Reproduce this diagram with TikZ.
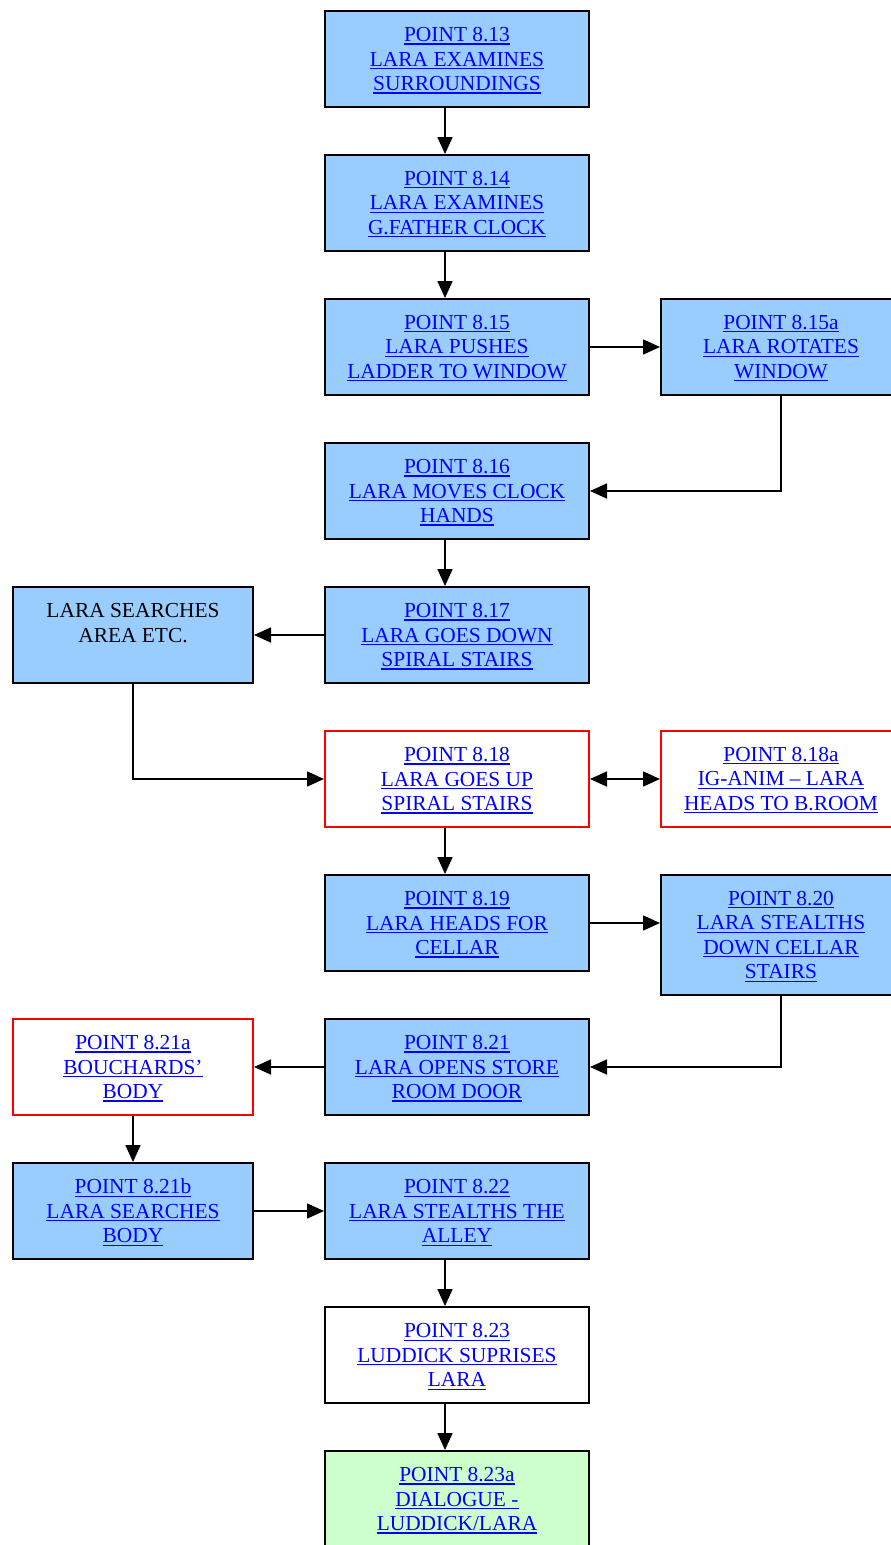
\documentclass[tikz,border=0pt]{standalone}
\usepackage{fontspec}
\setmainfont{Liberation Serif}
\usetikzlibrary{arrows.meta}
\definecolor{boxblue}{HTML}{99CCFF}
\definecolor{boxgreen}{HTML}{CCFFCC}
\definecolor{linkblue}{HTML}{0000FF}
\definecolor{boxred}{HTML}{FF0000}
\newcommand{\lk}[1]{\setbox0=\hbox{#1}\rlap{\smash{\rule[-3pt]{\wd0}{1.1pt}}}\box0}
\begin{document}
\begin{tikzpicture}[x=1pt,y=-1pt,
  box/.style={draw=black, line width=2pt, minimum height=96pt, align=center,
    font=\fontsize{21.4}{24.5}\selectfont, text=linkblue, inner sep=0pt},
  wide/.style={box, minimum width=264pt},
  narrow/.style={box, minimum width=240pt},
  bluebox/.style={fill=boxblue},
  redbox/.style={draw=boxred, fill=white},
  whitebox/.style={fill=white},
  greenbox/.style={fill=boxgreen},
  arr/.style={line width=1.7pt, -{Triangle[length=17pt,width=15pt]}},
  darr/.style={line width=1.7pt, {Triangle[length=17pt,width=15pt]}-{Triangle[length=17pt,width=15pt]}}]
\useasboundingbox (0,0) rectangle (891,1545);
\node[wide,bluebox] (p13) at (457,59) {\lk{POINT 8.13}\\\lk{LARA EXAMINES}\\\lk{SURROUNDINGS}};
\node[wide,bluebox] (p14) at (457,203) {\lk{POINT 8.14}\\\lk{LARA EXAMINES}\\\lk{G.FATHER CLOCK}};
\node[wide,bluebox] (p15) at (457,347) {\lk{POINT 8.15}\\\lk{LARA PUSHES}\\\lk{LADDER TO WINDOW}};
\node[narrow,bluebox] (p15a) at (781,347) {\lk{POINT 8.15a}\\\lk{LARA ROTATES}\\\lk{WINDOW}};
\node[wide,bluebox] (p16) at (457,491) {\lk{POINT 8.16}\\\lk{LARA MOVES CLOCK}\\\lk{HANDS}};
\node[wide,bluebox] (p17) at (457,635) {\lk{POINT 8.17}\\\lk{LARA GOES DOWN}\\\lk{SPIRAL STAIRS}};
\node[narrow,bluebox,text=black] (srch) at (133,635) {LARA SEARCHES\\AREA ETC.\\\mbox{}};
\node[wide,redbox] (p18) at (457,779) {\lk{POINT 8.18}\\\lk{LARA GOES UP}\\\lk{SPIRAL STAIRS}};
\node[narrow,redbox] (p18a) at (781,779) {\lk{POINT 8.18a}\\\lk{IG-ANIM – LARA}\\\lk{HEADS TO B.ROOM}};
\node[wide,bluebox] (p19) at (457,923) {\lk{POINT 8.19}\\\lk{LARA HEADS FOR}\\\lk{CELLAR}};
\node[narrow,bluebox,minimum height=120pt] (p20) at (781,935) {\lk{POINT 8.20}\\\lk{LARA STEALTHS}\\\lk{DOWN CELLAR}\\\lk{STAIRS}};
\node[wide,bluebox] (p21) at (457,1067) {\lk{POINT 8.21}\\\lk{LARA OPENS STORE}\\\lk{ROOM DOOR}};
\node[narrow,redbox] (p21a) at (133,1067) {\lk{POINT 8.21a}\\\lk{BOUCHARDS’}\\\lk{BODY}};
\node[narrow,bluebox] (p21b) at (133,1211) {\lk{POINT 8.21b}\\\lk{LARA SEARCHES}\\\lk{BODY}};
\node[wide,bluebox] (p22) at (457,1211) {\lk{POINT 8.22}\\\lk{LARA STEALTHS THE}\\\lk{ALLEY}};
\node[wide,whitebox] (p23) at (457,1355) {\lk{POINT 8.23}\\\lk{LUDDICK SUPRISES}\\\lk{LARA}};
\node[wide,greenbox] (p23a) at (457,1499) {\lk{POINT 8.23a}\\\lk{DIALOGUE -}\\\lk{LUDDICK/LARA}};
\draw[arr] ([xshift=-12pt]p13.south) -- ([xshift=-12pt]p14.north);
\draw[arr] ([xshift=-12pt]p14.south) -- ([xshift=-12pt]p15.north);
\draw[arr] (p15.east) -- (p15a.west);
\draw[arr] (p15a.south) |- (p16.east);
\draw[arr] ([xshift=-12pt]p16.south) -- ([xshift=-12pt]p17.north);
\draw[arr] (p17.west) -- (srch.east);
\draw[arr] (srch.south) |- (p18.west);
\draw[darr] (p18.east) -- (p18a.west);
\draw[arr] ([xshift=-12pt]p18.south) -- ([xshift=-12pt]p19.north);
\draw[arr] (p19.east) -- (p19.east -| p20.west);
\draw[arr] (p20.south) |- (p21.east);
\draw[arr] (p21.west) -- (p21a.east);
\draw[arr] (p21a.south) -- (p21b.north);
\draw[arr] (p21b.east) -- (p22.west);
\draw[arr] ([xshift=-12pt]p22.south) -- ([xshift=-12pt]p23.north);
\draw[arr] ([xshift=-12pt]p23.south) -- ([xshift=-12pt]p23a.north);
\end{tikzpicture}
\end{document}
